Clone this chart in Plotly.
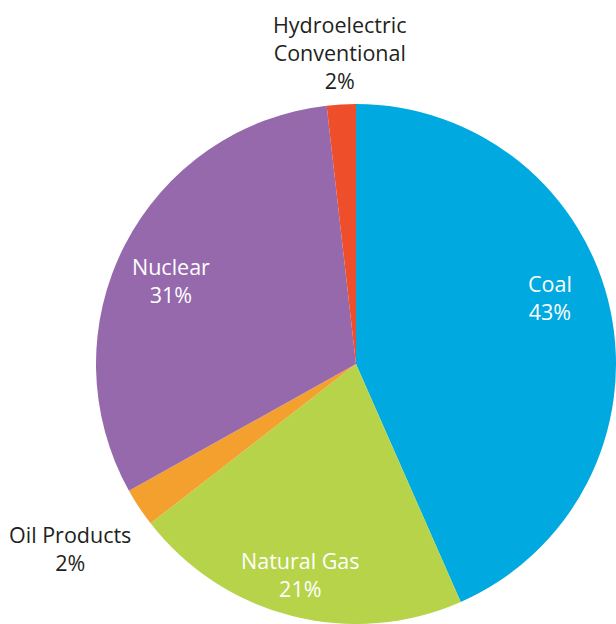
import plotly.graph_objects as go

labels = ["Coal", "Natural Gas", "Oil Products", "Nuclear", "Hydroelectric Conventional"]
values = [43.4, 21.1, 2.4, 31.3, 1.8]
display_text = ["Coal<br>43%", "Natural Gas<br>21%", "Oil Products<br>2%", "Nuclear<br>31%",
                "Hydroelectric<br>Conventional<br>2%"]
colors = ["#00A9DF", "#B6D34A", "#F4A02E", "#9569AC", "#EF4E2A"]
label_colors = ["white", "white", "#231F20", "white", "#231F20"]
# label block centres in pixels (x, y from top) of the 616x624 canvas
label_px = [(550, 297), (300, 574), (70, 548), (171, 280), (340, 52)]

W, H = 616, 624

fig = go.Figure(go.Pie(
    labels=labels,
    values=values,
    textinfo="none",
    sort=False,
    direction="clockwise",
    rotation=0,
    marker=dict(colors=colors, line=dict(width=0)),
    domain=dict(x=[96 / W, 1.0], y=[0.0, 520 / H]),
    showlegend=False,
    hoverinfo="label+percent",
))

for txt, col, (px, py) in zip(display_text, label_colors, label_px):
    fig.add_annotation(
        x=px / W, y=1 - py / H, xref="paper", yref="paper",
        text=txt, showarrow=False, xanchor="center", yanchor="middle",
        align="center",
        font=dict(family="Open Sans", size=21.5, color=col),
    )

fig.update_layout(
    width=W, height=H,
    margin=dict(l=0, r=0, t=0, b=0),
    paper_bgcolor="white",
    plot_bgcolor="white",
    font=dict(family="Open Sans"),
)

fig.write_html(
    "out.html",
    config={"displayModeBar": False},
    post_script="document.body.style.margin='0';document.documentElement.style.overflow='hidden';",
)
